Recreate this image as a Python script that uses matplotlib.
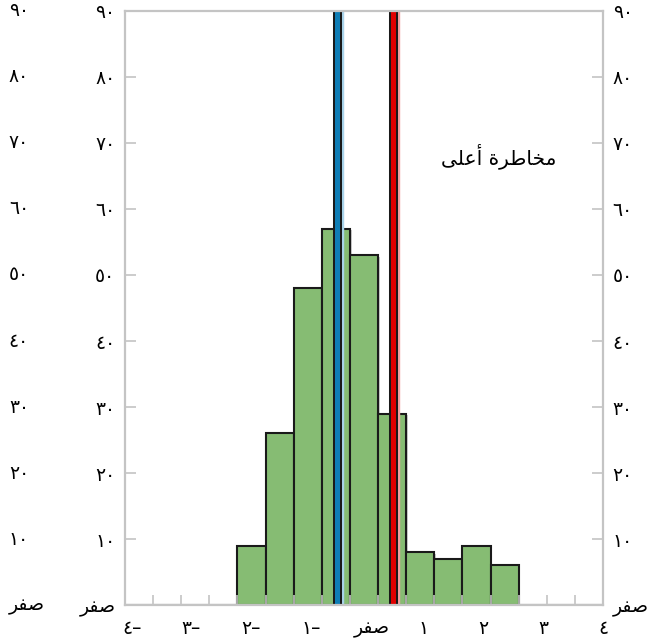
import matplotlib
matplotlib.use("Agg")
import matplotlib.pyplot as plt
import matplotlib.patheffects as pe
import matplotlib.transforms as mtransforms
import numpy as np

# Arabic text is pre-shaped (presentation forms, visual order) since matplotlib does no bidi/shaping
ZERO = "\uFEAE\uFED4\uFEBB"                      # صفر
NOTE = "\uFEF0\uFEE0\uFECB\uFE83 \uFE93\uFEAE\uFEC3\uFE8E\uFEA8\uFEE3"  # مخاطرة أعلى
AR_DIGITS = "٠١٢٣٤٥٦٧٨٩"

def ar_num(n):
    if n == 0:
        return ZERO
    s = "".join(AR_DIGITS[int(c)] for c in str(abs(n)))
    return s + "\u2013" if n < 0 else s

# histogram data
bin_edges = np.linspace(-4, 4, 18)
counts = [0, 0, 0, 0, 9, 26, 48, 57, 53, 29, 8, 7, 9, 6, 0, 0, 0]
blue_x = -0.45
red_x = 0.48
note_x, note_y = 3.22, 68

y_ticks = [0, 10, 20, 30, 40, 50, 60, 70, 80, 90]
x_ticks = [-4, -3, -2, -1, 0, 1, 2, 3, 4]

plt.rcParams['font.family'] = ['DejaVu Sans']
grey = "#c4c4c4"
fs = 13.5

fig = plt.figure(figsize=(6.58, 6.42), dpi=100)
ax = fig.add_axes([0.19, 0.0576, 0.7264, 0.9253])

widths = np.diff(bin_edges)
shadow = [pe.SimplePatchShadow(offset=(1.2, -1.2), shadow_rgbFace="#999999", alpha=0.5), pe.Normal()]
bars = ax.bar(bin_edges[:-1], counts, width=widths, align="edge",
              color="#86bc73", edgecolor="#1a1a1a", linewidth=1.5, zorder=1)
for b in bars:
    b.set_path_effects(shadow)

for xv, col, fringe in [(blue_x, "#0f7db5", "#a9d3ea"), (red_x, "#e00000", "#f4a0a0")]:
    ax.axvline(xv, color=col, linewidth=3.6, zorder=2,
               path_effects=[pe.Stroke(linewidth=7.5, foreground=fringe, offset=(1.5, 0)),
                             pe.Stroke(linewidth=6.5, foreground="#1a1a1a"),
                             pe.Normal()])

ax.text(note_x, note_y, NOTE, ha="right", va="center", fontsize=14.5)

ax.set_xlim(-4, 4)
ax.set_ylim(0, 90)

for s in ax.spines.values():
    s.set_color(grey)
    s.set_linewidth(1.6)

ax.set_xticks(x_ticks)
ax.set_xticklabels([ar_num(v) for v in x_ticks])
ax.set_xticks(bin_edges, minor=True)
ax.tick_params(axis="x", which="major", length=0, pad=10, labelsize=fs)
ax.tick_params(axis="x", which="minor", direction="in", length=7, width=1.2, color=grey)

# negative labels sit with the digit on the tick, the zero label is nudged right
for v, lbl in zip(x_ticks, ax.get_xticklabels()):
    if v < 0:
        lbl.set_horizontalalignment("left")
        lbl.set_transform(lbl.get_transform() + mtransforms.ScaledTranslation(-0.03, 0, fig.dpi_scale_trans))
    elif v == 0:
        lbl.set_transform(lbl.get_transform() + mtransforms.ScaledTranslation(0.08, 0, fig.dpi_scale_trans))

ax.set_yticks(y_ticks)
ax.set_yticklabels([ar_num(v) for v in y_ticks])
ax.tick_params(axis="y", direction="in", length=8, width=1.2, color=grey,
               left=True, right=True, labelleft=True, labelright=True, pad=7, labelsize=fs)

# outer column of labels on the far left
for v in y_ticks:
    ax.text(-0.243, v, ar_num(v), transform=ax.get_yaxis_transform(),
            ha="left", va="center", fontsize=fs)

fig.savefig("out.png", dpi=100)
